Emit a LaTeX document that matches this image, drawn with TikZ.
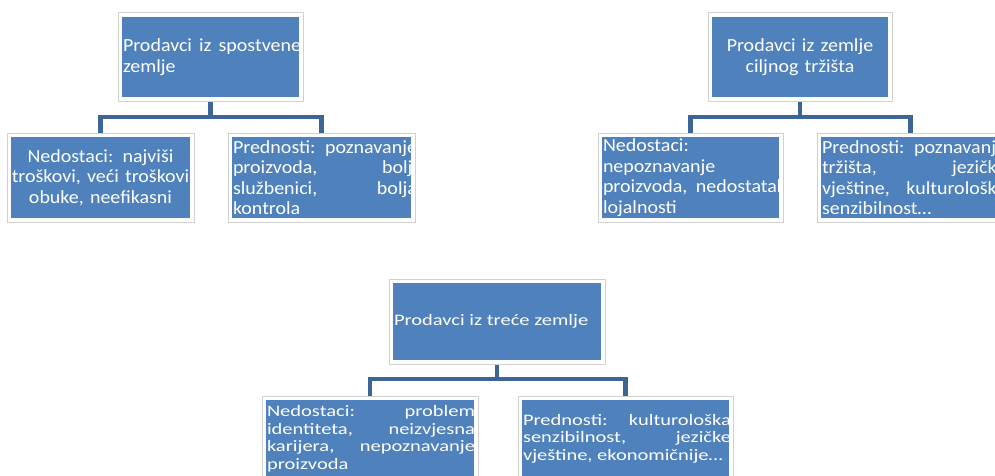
\documentclass[tikz,border=0pt]{standalone}
\usepackage{fontspec}
\setmainfont{Carlito}[FakeStretch=1.08]
\newfontfamily\wfont{Carlito}[FakeStretch=1.28]
\usetikzlibrary{calc}
\hyphenpenalty=10000
\exhyphenpenalty=10000
\tolerance=10000
\definecolor{boxblue}{HTML}{4F81BD}
\definecolor{connblue}{HTML}{3D6596}
\tikzset{
  box/.style={rectangle, fill=boxblue, draw=none, inner sep=0pt},
  frameband/.style={draw=white, line width=4.5pt},
  frameedge/.style={draw=black!18, line width=0.6pt},
  txt/.style={text=white, inner sep=0pt, font=\fontsize{18.5}{20.5}\selectfont},
  txtb/.style={text=white, inner sep=0pt, font=\wfont\fontsize{16}{17.5}\selectfont},
  conn/.style={draw=connblue, line width=4.5pt}
}
\begin{document}
\begin{tikzpicture}[x=1pt,y=-1pt]
\useasboundingbox (0,0) rectangle (995,476);
\clip (0,0) rectangle (995,476);
\fill[white] (0,0) rectangle (995,476);

% tree 1
\node[box, minimum width=185pt, minimum height=88pt] (t1) at (210.5,57) {};
\node[box, minimum width=187pt, minimum height=89pt] (t1L) at (100.5,177.5) {};
\node[box, minimum width=187pt, minimum height=89pt] (t1R) at (321.5,177.5) {};
\coordinate (j1) at ($(t1.south)+(0,16)$);
\draw[conn] (t1.south) -- (j1);
\draw[conn] (t1L.north) |- (j1) -| (t1R.north);
\node[txt, text width=178pt, align=justify, anchor=west] (t1t) at ([xshift=5pt]t1.west) {Prodavci iz spostvene zemlje};
\node[txt, text width=180pt, align=center] (t1Lt) at (t1L.center) {Nedostaci: najviši troškovi, veći troškovi obuke, neefikasni};
\node[txt, text width=184pt, align=justify, anchor=west] (t1Rt) at ([xshift=5pt]t1R.west) {Prednosti: poznavanje proizvoda, bolji službenici, bolja kontrola};

% tree 2
\node[box, minimum width=184pt, minimum height=88pt] (t2) at (800,57) {};
\node[box, minimum width=185pt, minimum height=89pt] (t2L) at (690.5,177.5) {};
\node[box, minimum width=187pt, minimum height=89pt] (t2R) at (910.5,177.5) {};
\coordinate (j2) at ($(t2.south)+(0,16)$);
\draw[conn] (t2.south) -- (j2);
\draw[conn] (t2L.north) |- (j2) -| (t2R.north);
\node[txt, text width=172pt, align=center] (t2t) at (t2.center) {Prodavci iz zemlje ciljnog tržišta};
\node[txt, text width=183pt, align=justify, anchor=west] (t2Lt) at ([xshift=5pt]t2L.west) {Nedostaci: nepoznavanje proizvoda, nedostatak lojalnosti};
\node[txt, text width=184pt, align=justify, anchor=west] (t2Rt) at ([xshift=5pt]t2R.west) {Prednosti: poznavanje tržišta, jezičke vještine, kulturološka senzibilnost…};

% tree 3
\node[box, minimum width=216pt, minimum height=85pt] (t3) at (497,321.5) {};
\node[box, minimum width=216pt, minimum height=85pt] (t3L) at (370,438.5) {};
\node[box, minimum width=215pt, minimum height=85pt] (t3R) at (625.5,438.5) {};
\coordinate (j3) at ($(t3.south)+(0,15)$);
\draw[conn] (t3.south) -- (j3);
\draw[conn] (t3L.north) |- (j3) -| (t3R.north);
\node[txtb, text width=207pt, align=justify, anchor=west] (t3t) at ([xshift=5pt]t3.west) {Prodavci iz treće zemlje};
\node[txtb, text width=208pt, align=justify, anchor=west] (t3Lt) at ([xshift=5pt]t3L.west) {Nedostaci: problem identiteta, neizvjesna karijera, nepoznavanje proizvoda};
\node[txtb, text width=208pt, align=justify, anchor=west] (t3Rt) at ([xshift=5pt]t3R.west) {Prednosti: kulturološka senzibilnost, jezičke vještine, ekonomičnije…};

% white frames with light edge, drawn over text overflow
\foreach \n in {t1,t1L,t1R,t2,t2L,t2R,t3,t3L,t3R}{
  \draw[frameband] ([shift={(2.25pt,-2.25pt)}]\n.north west) rectangle ([shift={(-2.25pt,2.25pt)}]\n.south east);
  \draw[frameedge] (\n.north west) rectangle (\n.south east);
}
\end{tikzpicture}
\end{document}
